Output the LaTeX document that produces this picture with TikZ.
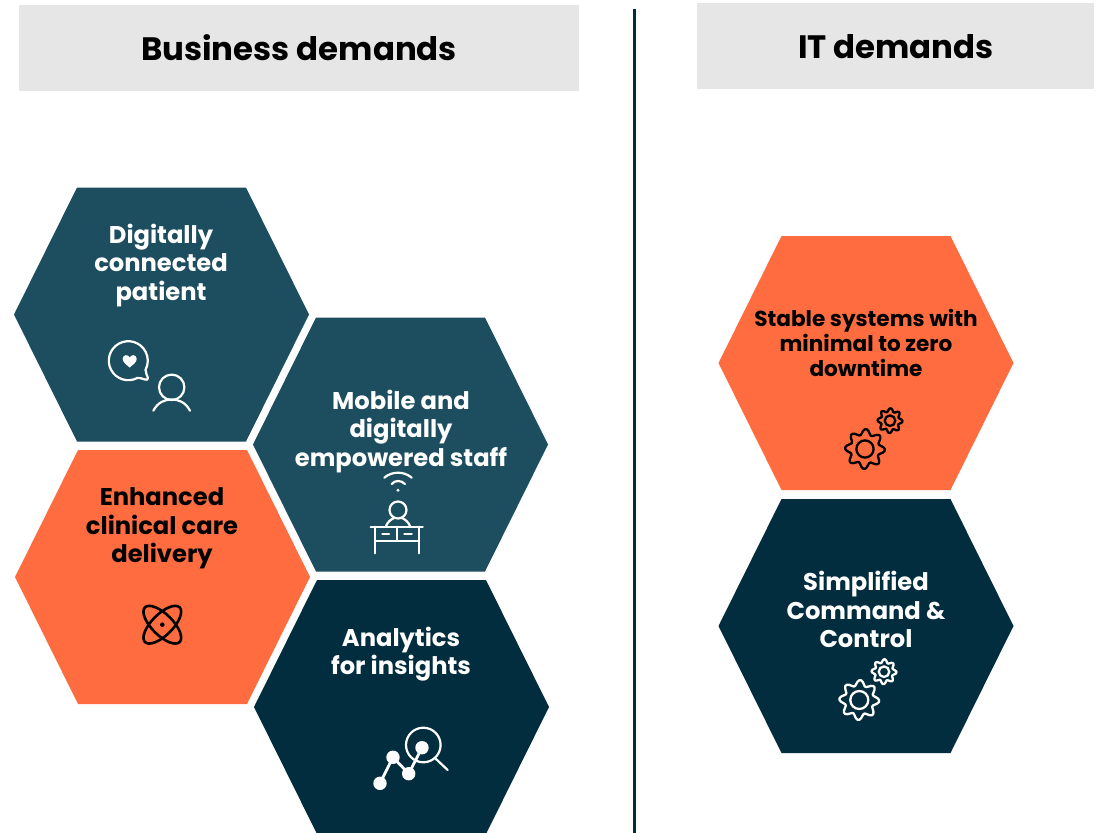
\documentclass[tikz,border=0pt]{standalone}
\usepackage{fontspec}
\setmainfont{Poppins}
\definecolor{hexteal}{HTML}{1D4E5F}
\definecolor{hexnavy}{HTML}{022D3E}
\definecolor{hexcoral}{HTML}{FF6C40}
\definecolor{band}{HTML}{E6E6E6}
\tikzset{
  hexa/.pic={\fill[pic actions] (-147.5,0)--(-84.5,-127)--(84.5,-127)--(147.5,0)--(84.5,127)--(-84.5,127)--cycle;},
  hextext/.style={align=center,font=\fontsize{24.2}{28.6}\selectfont\bfseries,inner sep=0pt},
  headtext/.style={font=\fontsize{32.4}{38}\selectfont\bfseries,inner sep=0pt,text=black},
  icon/.style={line width=2.2,line cap=round,line join=round}
}
\newcommand{\gearicon}[5]{% x y radius hole colour
  \begin{scope}[shift={(#1,#2)},x=#3pt,y=#3pt]
  \draw[#5,line width=2.3,line join=round] plot[smooth cycle,samples=64,domain=0:354.375,variable=\t] ({(0.86+0.14*cos(8*\t+22))*cos(\t)},{(0.86+0.14*cos(8*\t+22))*sin(\t)});
  \draw[#5,line width=2.3] (0,0) circle (#4);
  \end{scope}}
\begin{document}
\begin{tikzpicture}[x=1pt,y=-1pt]
\useasboundingbox (0,0) rectangle (1104,833);
\fill[white] (0,0) rectangle (1104,833);
\begin{scope}
\clip (0,0) rectangle (1104,833);
\fill[band] (19,5) rectangle (579,91);
\fill[band] (697,3) rectangle (1094,89);
\draw[hexnavy,line width=3] (634.5,9) -- (634.5,833);
\pic[fill=hexteal] at (161.5,314.5) {hexa};
\pic[fill=hexteal] at (400.5,444.5) {hexa};
\pic[fill=hexcoral] at (162.5,577) {hexa};
\pic[fill=hexnavy] at (401.5,707) {hexa};
\pic[fill=hexcoral] at (866,363) {hexa};
\pic[fill=hexnavy] at (866,626) {hexa};
\end{scope}
\node[headtext] (t1) at (299,48) {Business demands};
\node[headtext] (t2) at (896,47) {IT demands};
\node[hextext,text=white] (a) at (161,265.5) {Digitally\\connected\\patient};
\node[hextext,text=white] (b) at (401,431.5) {Mobile and\\digitally\\empowered staff};
\node[hextext,text=black] (c) at (162,528.5) {Enhanced\\clinical care\\delivery};
\node[hextext,text=white] (d) at (401,654) {Analytics\\for insights};
\node[hextext,text=black,font=\fontsize{21.6}{25.4}\selectfont\bfseries] (e) at (866,343) {Stable systems with\\minimal to zero\\downtime};
\node[hextext,text=white] (f) at (866,609.5) {Simplified\\Command \&\\Control};
% chat + person
\begin{scope}[icon,white]
\draw (128.3,360.7) ++(62:19.5) arc (62:388:19.5) .. controls (146,373) and (147,376) .. (148,378) .. controls (148.5,380) and (146,380) .. (145,379.5) .. controls (142,378.5) and (139,377.5) .. (136.7,377.9);
\fill (129.7,367.5) .. controls (126,364.5) and (122.7,362) .. (122.7,358.8) .. controls (122.7,354.5) and (128.3,354) .. (129.7,357.5) .. controls (131.1,354) and (136.7,354.5) .. (136.7,358.8) .. controls (136.7,362) and (133.4,364.5) .. (129.7,367.5) -- cycle;
\draw (171.7,387.3) circle (12.7);
\draw (153.3,410.7) .. controls (158,402) and (165,399.5) .. (171.7,399.5) .. controls (178.4,399.5) and (185.5,402) .. (190,410.7);
\end{scope}
% desk
\begin{scope}[icon,white]
\draw (384.3,477.7) .. controls (392,471) and (404,471) .. (411.7,477.7);
\draw (391.7,484) .. controls (395,480) and (401,480) .. (405,484);
\fill (398,490.3) circle (1.6);
\draw (398,510) circle (8.5);
\draw (386,526) .. controls (388,521) and (392,519) .. (394,518);
\draw (410,526) .. controls (408,521) and (404,519) .. (402,518);
\draw (370.7,526.7) -- (422.7,526.7);
\draw (375,526.7) -- (375,553.3);
\draw (419,526.7) -- (419,553.3);
\draw (375,541) -- (419,541);
\draw (396.7,526.7) -- (396.7,541);
\draw (382.3,534) -- (389,534);
\draw (404.3,534) -- (411.7,534);
\end{scope}
% atom
\begin{scope}[black,line width=2.6]
\draw[rotate around={45:(162.3,624.7)}] (162.3,624.7) ellipse (24.5 and 10.5);
\draw[rotate around={-45:(162.3,624.7)}] (162.3,624.7) ellipse (24.5 and 10.5);
\fill (162.3,624.7) circle (2.3);
\end{scope}
% analytics
\begin{scope}[white]
\draw[line width=2.8,line join=round] (380,783.3) -- (393,757.3) -- (408.7,773.7) -- (422,747.7);
\fill (380,783.3) circle (6.7);
\fill (393,757.3) circle (6.7);
\fill (408.7,773.7) circle (6.7);
\fill (422,747.7) circle (6.7);
\draw[line width=2.2] (423.3,745) circle (17.3);
\draw[line width=2.2,line cap=round] (436,759) -- (447.7,770);
\end{scope}
% gears
\gearicon{865}{449}{20}{0.43}{black}
\gearicon{890}{420.7}{12.5}{0.42}{black}
\gearicon{859.3}{700}{20}{0.45}{white}
\gearicon{884}{671.7}{12.5}{0.42}{white}
\end{tikzpicture}
\end{document}
